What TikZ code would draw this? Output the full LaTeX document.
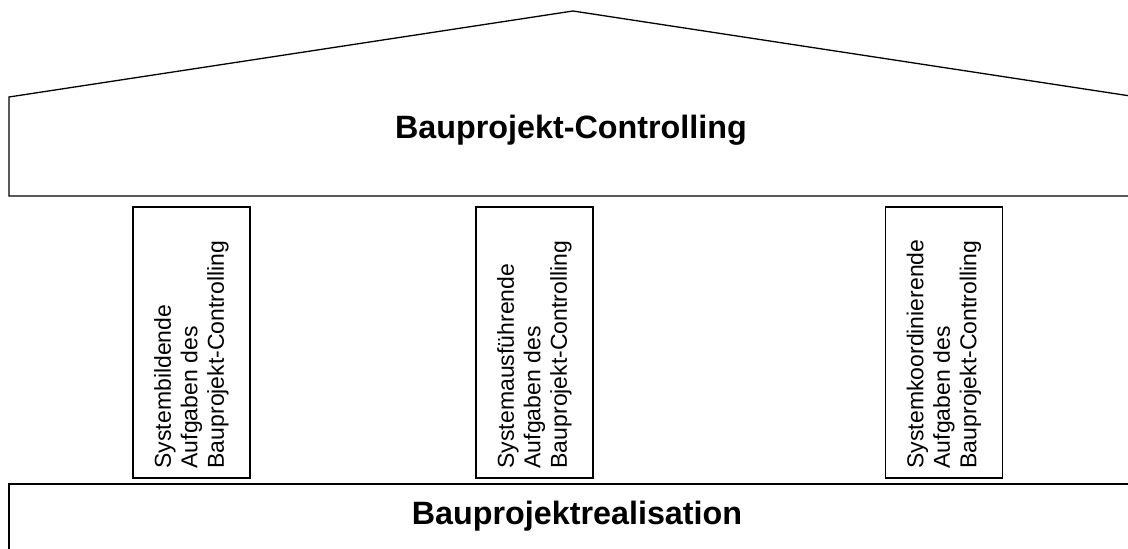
\documentclass[tikz,border=0pt]{standalone}
\usepackage{fontspec}
\setmainfont{Liberation Sans}
\begin{document}
\begin{tikzpicture}[x=1pt,y=-1pt,line width=1.3pt,
  pillar/.style={draw,rectangle,minimum width=117pt,minimum height=271pt,inner sep=0pt},
  pillartext/.style={rotate=90,anchor=west,align=left,inner sep=0pt,
    font=\fontsize{23}{26.5}\selectfont},
  heading/.style={font=\fontsize{32.3}{38}\selectfont\bfseries,inner sep=0pt}]
\useasboundingbox (0,0) rectangle (1128,549);
\clip (0,0) rectangle (1128,549);
% roof and main beam
\draw (9,196) -- (9,97) -- (573,11) -- (1137,97) -- (1137,196) -- cycle;
\node[heading] (controlling) at (571,130) {Bauprojekt-Controlling};
% foundation
\draw (9,570) -- (9,484) -- (1137,484) -- (1137,570);
\node[heading] (realisation) at (577,516) {Bauprojektrealisation};
% three pillars
\node[pillar] (p1) at (191.5,342.5) {};
\node[pillar] (p2) at (534.5,342.5) {};
\node[pillar] (p3) at (944,342.5) {};
\node[pillartext] (t1) at (191.5,469) {Systembildende\\Aufgaben des\\Bauprojekt-Controlling};
\node[pillartext] (t2) at (534.5,469) {Systemausführende\\Aufgaben des\\Bauprojekt-Controlling};
\node[pillartext] (t3) at (944,469) {Systemkoordinierende\\Aufgaben des\\Bauprojekt-Controlling};
\end{tikzpicture}
\end{document}
